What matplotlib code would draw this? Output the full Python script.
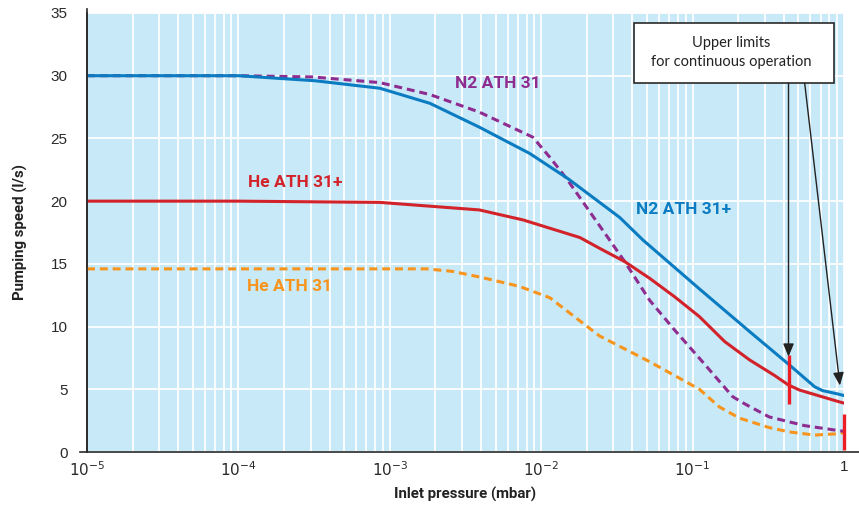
import matplotlib
matplotlib.use("Agg")
import matplotlib.pyplot as plt
from matplotlib.patches import Rectangle, ArrowStyle

plt.rcParams['mathtext.fontset'] = 'custom'
plt.rcParams['mathtext.rm'] = 'Liberation Sans Narrow'
plt.rcParams['mathtext.it'] = 'Liberation Sans Narrow'

# ---- data ----
n2_plus_p = [1e-5, 1e-4, 3.2e-4, 8.6e-4, 1.84e-3, 3.9e-3, 8.4e-3, 1.5e-2, 3.3e-2, 4.7e-2, 0.111, 0.238, 0.44, 0.64, 0.72, 0.93, 1.0]
n2_plus_s = [30, 30, 29.6, 29.0, 27.8, 25.9, 23.8, 21.8, 18.7, 16.9, 13.0, 9.6, 6.9, 5.2, 4.9, 4.6, 4.5]

n2_p = [1e-5, 1e-4, 3.1e-4, 8.6e-4, 1.84e-3, 3.9e-3, 8.8e-3, 1.14e-2, 1.47e-2, 2.83e-2, 3.56e-2, 5.2e-2, 7.6e-2, 0.111, 0.184, 0.22, 0.32, 0.55, 0.93, 1.0]
n2_s = [30, 30, 29.9, 29.45, 28.5, 27.1, 25.1, 23.5, 21.8, 16.9, 15.18, 12.1, 9.73, 7.47, 4.41, 3.85, 2.8, 2.1, 1.7, 1.65]

he_plus_p = [1e-5, 1e-4, 8.6e-4, 3.9e-3, 7.6e-3, 1.8e-2, 2.43e-2, 3.56e-2, 5.2e-2, 7.6e-2, 0.111, 0.163, 0.238, 0.348, 0.43, 0.508, 0.93, 1.0]
he_plus_s = [20, 20, 19.9, 19.3, 18.5, 17.1, 16.24, 15.18, 13.85, 12.38, 10.79, 8.8, 7.34, 6.1, 5.34, 4.94, 4.0, 3.9]

he_p = [1e-5, 1.75e-3, 2.6e-3, 4.1e-3, 7.2e-3, 1.14e-2, 2.43e-2, 5.2e-2, 0.111, 0.15, 0.204, 0.32, 0.436, 0.64, 0.89, 1.0]
he_s = [14.6, 14.6, 14.4, 13.9, 13.2, 12.3, 9.25, 7.2, 5.0, 3.6, 2.7, 1.95, 1.6, 1.35, 1.45, 1.55]

x_ticks = [1e-5, 1e-4, 1e-3, 1e-2, 1e-1, 1]
x_ticklabels = [r'$10^{-5}$', r'$10^{-4}$', r'$10^{-3}$', r'$10^{-2}$', r'$10^{-1}$', '1']
y_ticks = [0, 5, 10, 15, 20, 25, 30, 35]

limit1_p, limit1_range = 0.43, (3.8, 7.7)
limit2_p, limit2_range = 1.0, (0.15, 3.0)

# ---- style ----
BG = '#c8e9f8'
C_BLUE = '#0b7cc1'
C_PURPLE = '#8e2c8f'
C_RED = '#d2232a'
C_ORANGE = '#f7941d'
C_MARK = '#ee1c25'
AX = '#2a2a2a'
narrow = ['Liberation Sans Narrow', 'Liberation Sans', 'DejaVu Sans']
boldf = ['Roboto', 'DejaVu Sans']

fig = plt.figure(figsize=(8.59, 5.05), dpi=100)
ax = fig.add_axes([87/859, 1-452/505, (844-87)/859, (452-13)/505])
ax.set_facecolor(BG)
ax.set_xscale('log')
ax.set_xlim(1e-5, 1)
ax.set_ylim(0, 35)

ax.grid(True, which='both', axis='x', color='white', lw=1.3)
ax.grid(True, which='major', axis='y', color='white', lw=1.3)
ax.set_axisbelow(True)

ax.set_xticks(x_ticks)
ax.set_xticklabels(x_ticklabels)
ax.set_yticks(y_ticks)
ax.tick_params(axis='both', which='both', length=0)
ax.tick_params(axis='x', pad=6, labelsize=11, colors=AX)
ax.tick_params(axis='y', pad=14, labelsize=11, colors=AX)
for lab in ax.get_xticklabels() + ax.get_yticklabels():
    lab.set_family(narrow)

for s in ['top', 'right']:
    ax.spines[s].set_visible(False)
ax.spines['left'].set_color(AX)
ax.spines['left'].set_linewidth(1.2)
ax.spines['bottom'].set_visible(False)
ax.plot([-0.0092, 1.02], [0, 0], transform=ax.transAxes, clip_on=False, color=AX, lw=1.2)
ax.plot([0, 0], [0, 1.01], transform=ax.transAxes, clip_on=False, color=AX, lw=1.2)

lw = 2.2
ax.plot(he_p, he_s, color=C_ORANGE, lw=lw, dashes=(2.6, 1.6))
ax.plot(n2_p, n2_s, color=C_PURPLE, lw=lw, dashes=(2.6, 1.6))
ax.plot(he_plus_p, he_plus_s, color=C_RED, lw=lw)
ax.plot(n2_plus_p, n2_plus_s, color=C_BLUE, lw=lw)

# limit markers
ax.plot([limit1_p, limit1_p], limit1_range, color=C_MARK, lw=2.4, solid_capstyle='butt', zorder=5)
ax.plot([limit2_p, limit2_p], limit2_range, color=C_MARK, lw=2.4, solid_capstyle='butt', clip_on=False, zorder=5)

# series labels
tk = dict(fontsize=12.5, fontweight='bold', family=boldf, ha='center', va='center')
ax.text(10**-2.287, 29.4, 'N2 ATH 31', color=C_PURPLE, **tk)
ax.text(10**-1.06, 19.3, 'N2 ATH 31+', color=C_BLUE, **tk)
ax.text(10**-3.627, 21.45, 'He ATH 31+', color=C_RED, **tk)
ax.text(10**-3.66, 13.2, 'He ATH 31', color=C_ORANGE, **tk)

# annotation box
ax.add_patch(Rectangle((0.0408, 29.4), 0.853-0.0408, 34.2-29.4, facecolor='white',
                       edgecolor=AX, lw=1.2, zorder=6, clip_on=False))
ax.text(10**-0.742, 31.85, 'Upper limits\nfor continuous operation', ha='center', va='center',
        fontsize=10.5, color='#222', family=['Lato', 'DejaVu Sans'], linespacing=1.45, zorder=7)

astyle = ArrowStyle('-|>', head_length=0.6, head_width=0.25)
ax.annotate('', xy=(limit1_p, 7.6), xytext=(limit1_p, 29.4),
            arrowprops=dict(arrowstyle=astyle, color='#222', lw=1.0, mutation_scale=13,
                            shrinkA=0, shrinkB=0), zorder=6)
ax.annotate('', xy=(0.94, 5.3), xytext=(0.55, 29.4),
            arrowprops=dict(arrowstyle=astyle, color='#222', lw=1.0, mutation_scale=13,
                            shrinkA=0, shrinkB=0), zorder=6)

ax.set_ylabel('Pumping speed (l/s)', fontsize=10.8, fontweight='bold', family=boldf, color='#222', labelpad=16)
ax.set_xlabel('Inlet pressure (mbar)', fontsize=10.8, fontweight='bold', family=boldf, color='#222', labelpad=6)

fig.savefig('out.png', dpi=100)
